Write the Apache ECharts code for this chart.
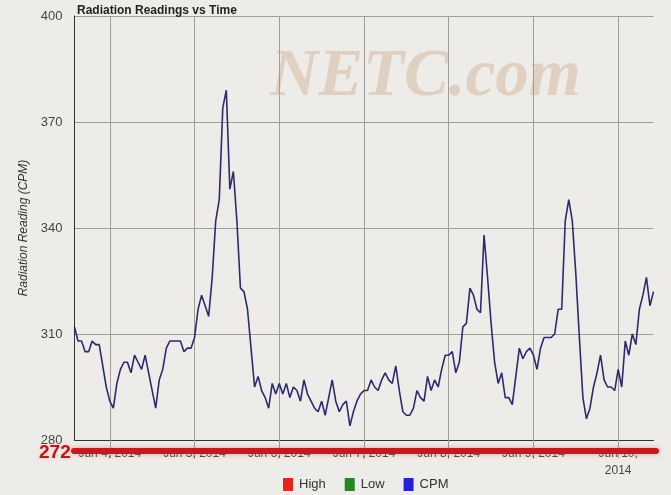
<!DOCTYPE html>
<html>
<head>
<meta charset="utf-8">
<script src="https://cdn.jsdelivr.net/npm/echarts@6/dist/echarts.min.js"></script>
<style>
html,body{margin:0;padding:0;background:#edece9;}
#chart{width:671px;height:495px;}
</style>
</head>
<body>
<div id="chart"></div>
<script>
// Hourly CPM readings, starting Jun 3, 2014 14:00
const startUTC = Date.UTC(2014, 5, 3, 14, 0);
const cpm = [
312,308,308,305,305,308,307,307,301,295,
291,289,296,300,302,302,299,304,302,300,
304,299,294,289,297,300,306,308,308,308,
308,305,306,306,309,317,321,318,315,326,
342,348,374,379,351,356,342,323,322,317,
306,295,298,294,292,289,296,293,296,293,
296,292,295,294,291,297,293,291,289,288,
291,287,292,297,291,288,290,291,284,288,
291,293,294,294,297,295,294,297,299,297,
296,301,294,288,287,287,289,294,292,291,
298,294,297,295,300,304,304,305,299,302,
312,313,323,321,317,316,338,326,313,302,
296,299,292,292,290,298,306,303,305,306,
304,300,306,309,309,309,310,317,317,342,
348,342,327,309,292,286,289,295,299,304,
297,295,295,294,300,295,308,304,310,307,
317,321,326,318,322
];
const highData = [];
const lowData = [];
const yTicks = [280, 310, 340, 370, 400];
const seriesNames = ['High', 'Low', 'CPM'];
const monthNames = ['Jan','Feb','Mar','Apr','May','Jun','Jul','Aug','Sep','Oct','Nov','Dec'];

function pad(n){return (n<10?'0':'')+n;}
const categories = cpm.map(function(_, i){
  const d = new Date(startUTC + i*3600000);
  return d.getUTCFullYear()+'-'+pad(d.getUTCMonth()+1)+'-'+pad(d.getUTCDate())+' '+pad(d.getUTCHours())+':00';
});
function isMidnight(idx, val){ return / 00:00$/.test(val); }
function fmtDate(val){
  const y = val.slice(0,4), m = +val.slice(5,7), d = +val.slice(8,10);
  if (d === 10) return monthNames[m-1]+' '+d+',\n'+y;
  return monthNames[m-1]+' '+d+', '+y;
}

const chart = echarts.init(document.getElementById('chart'), null, {renderer:'canvas'});
chart.setOption({
  backgroundColor: '#edece9',
  animation: false,
  title: {
    text: 'Radiation Readings vs Time',
    left: 72, top: 0,
    textStyle: {fontFamily: 'Arial, Liberation Sans, sans-serif', fontSize: 12, fontWeight: 'bold', color: '#222'}
  },
  legend: {
    top: 478,
    left: 283,
    padding: 0,
    itemWidth: 10, itemHeight: 13, itemGap: 19,
    icon: 'rect',
    textStyle: {fontFamily: 'Arial, Liberation Sans, sans-serif', fontSize: 13, color: '#333', padding: [0,0,0,1]},
    data: [
      {name: 'High', itemStyle: {color: '#e8231c'}},
      {name: 'Low', itemStyle: {color: '#23871f'}},
      {name: 'CPM', itemStyle: {color: '#2323d4'}}
    ]
  },
  grid: {left: 74.5, right: 17.5, top: 16, bottom: 55},
  xAxis: {
    type: 'category',
    data: categories,
    boundaryGap: false,
    axisLine: {lineStyle: {color: '#333', width: 1}},
    axisTick: {show: true, interval: isMidnight, length: 18, lineStyle: {color: '#999'}},
    splitLine: {show: true, interval: isMidnight, lineStyle: {color: '#a09d99', width: 1}},
    axisLabel: {
      interval: isMidnight,
      formatter: fmtDate,
      margin: 5,
      fontFamily: 'Arial, Liberation Sans, sans-serif',
      fontSize: 12,
      color: '#444',
      lineHeight: 17
    }
  },
  yAxis: {
    type: 'value',
    min: yTicks[0], max: yTicks[yTicks.length-1], interval: 30,
    name: 'Radiation Reading (CPM)',
    nameLocation: 'middle',
    nameGap: 44,
    nameTextStyle: {fontFamily: 'Arial, Liberation Sans, sans-serif', fontSize: 12, fontStyle: 'italic', color: '#333'},
    axisLine: {show: true, lineStyle: {color: '#333', width: 1}},
    axisTick: {show: false},
    splitLine: {lineStyle: {color: '#a09d99', width: 1}},
    axisLabel: {
      margin: 12,
      fontFamily: 'Arial, Liberation Sans, sans-serif',
      fontSize: 13,
      color: '#444'
    }
  },
  series: [
    {name: 'High', type: 'line', data: highData, itemStyle: {color: '#e8231c'}},
    {name: 'Low', type: 'line', data: lowData, itemStyle: {color: '#23871f'}},
    {name: 'CPM', type: 'line', data: cpm, showSymbol: false, symbol: 'none',
     itemStyle: {color: '#2323d4'},
     lineStyle: {color: '#2e2b6c', width: 1.6}}
  ],
  graphic: [
    {
      type: 'text', left: 270, top: 44, z: 0, silent: true,
      style: {
        text: 'NETC.com',
        font: 'italic bold 67px "Liberation Serif", "DejaVu Serif", serif',
        fill: 'rgba(212,185,160,0.55)'
      }
    },
    {
      type: 'line', z: 100, silent: true,
      shape: {x1: 74, y1: 451, x2: 656, y2: 451},
      style: {stroke: '#c21a1e', lineWidth: 6, lineCap: 'round',
              shadowBlur: 5, shadowColor: 'rgba(235,120,120,0.7)'}
    },
    {
      type: 'text', z: 100, silent: true,
      x: 39, y: 453,
      style: {
        text: '272',
        font: 'bold 19px Arial, "Liberation Sans", sans-serif',
        fill: '#b51a1e',
        verticalAlign: 'middle',
        textShadowBlur: 3, textShadowColor: 'rgba(235,140,140,0.6)'
      }
    }
  ]
});
</script>
</body>
</html>
